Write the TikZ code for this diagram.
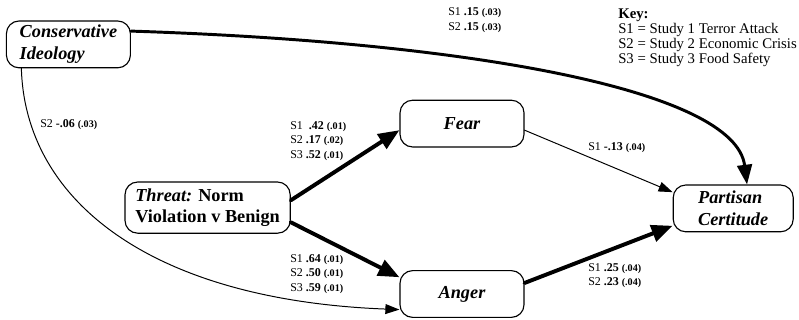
\documentclass[tikz,border=0pt]{standalone}
\usepackage{fontspec}
\setmainfont{Liberation Serif}
\usepackage{tikz}
\usetikzlibrary{arrows.meta,positioning}

\newcommand{\sevalue}[1]{{\fontsize{7.2}{8}\selectfont\textbf{(#1)}}}

\begin{document}
\begin{tikzpicture}[line cap=round,line join=round,x=1cm,y=1cm,
	box/.style={draw,line width=0.8pt,rounded corners=9pt,minimum width=3.1cm,minimum height=1.17cm,
		inner sep=2pt,align=left,font=\fontsize{13}{15.5}\selectfont\bfseries},
	coef/.style={anchor=west,align=left,inner sep=0pt,font=\fontsize{8.5}{10.3}\selectfont},
	thickpath/.style={line width=2.8pt,-{Triangle[length=15pt,width=12pt]}},
	curvepath/.style={line width=2.1pt,-{Triangle[length=14pt,width=10.5pt]}},
	thinpath/.style={line width=0.7pt,-{Triangle[length=10pt,width=7pt]}}]

\useasboundingbox (0,0) rectangle (19.975,-8);

% variables
\node[box] (cons) at (1.71,-1.11) {\itshape Conservative\\\itshape Ideology};
\node[box,minimum width=4.13cm,minimum height=1.28cm] (threat) at (5.19,-5.19) {\itshape Threat:\upshape{} Norm\\Violation v Benign};
\node[box] (fear) at (11.55,-3.09) {\itshape Fear};
\node[box] (anger) at (11.55,-7.35) {\itshape Anger};
\node[box,minimum width=3.0cm] (part) at (18.33,-5.21) {\itshape Partisan\\\itshape Certitude};

% paths
\draw[curvepath] (cons.12) .. controls (11.75,-1.05) and (18.375,-2.25) .. (part.60);
\draw[thinpath] (cons.207) .. controls (0.625,-5.0) and (3.75,-7.5) .. (anger.194);
\draw[thickpath] (threat.5) -- (fear.186);
\draw[thickpath] (threat.-10) -- (anger.165);
\draw[thinpath] (fear.-6) -- (part.165);
\draw[thickpath] (anger.10) -- (part.196);

% coefficients
\node[coef] (lblcp) at (11.2,-0.5) {S1 \textbf{.15} \sevalue{.03}\\S2 \textbf{.15} \sevalue{.03}};
\node[coef] (lblca) at (1.0,-3.125) {S2 \textbf{-.06} \sevalue{.03}};
\node[coef] (lbltf) at (7.25,-3.52) {S1 \ \textbf{.42} \sevalue{.01}\\S2 \textbf{.17} \sevalue{.02}\\S3 \textbf{.52} \sevalue{.01}};
\node[coef] (lblfp) at (14.7,-3.7) {S1 \textbf{-.13} \sevalue{.04}};
\node[coef] (lblta) at (7.25,-6.85) {S1 \textbf{.64} \sevalue{.01}\\S2 \textbf{.50} \sevalue{.01}\\S3 \textbf{.59} \sevalue{.01}};
\node[coef] (lblap) at (14.7,-6.89) {S1 \textbf{.25} \sevalue{.04}\\S2 \textbf{.23} \sevalue{.04}};

% key
\node[anchor=west,align=left,inner sep=0pt,font=\fontsize{10.5}{10.7}\selectfont] (key) at (15.45,-0.94)
	{\textbf{Key:}\\S1 = Study 1 Terror Attack\\S2 = Study 2 Economic Crisis\\S3 = Study 3 Food Safety};
\end{tikzpicture}
\end{document}
